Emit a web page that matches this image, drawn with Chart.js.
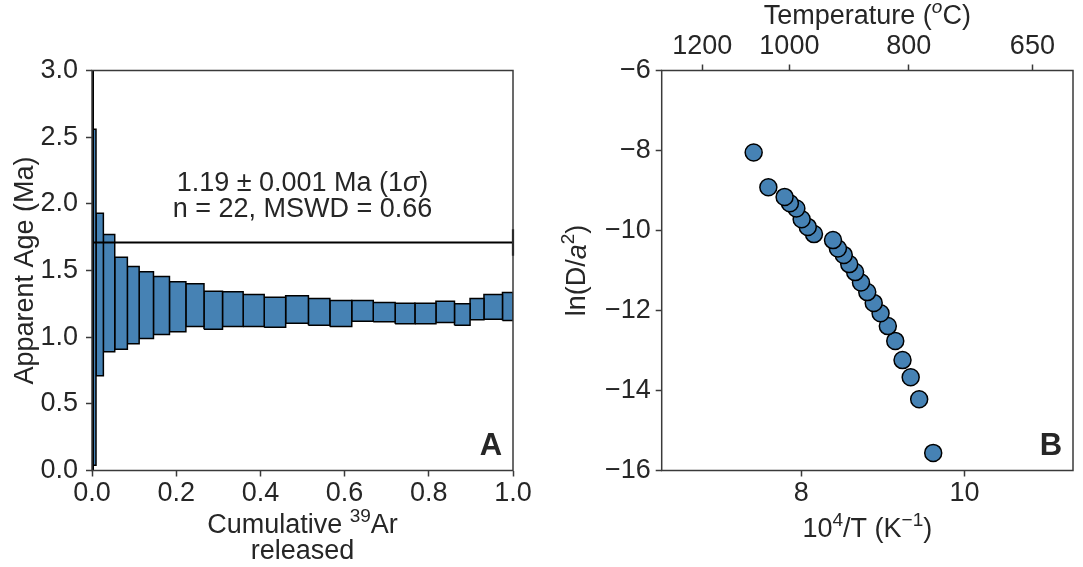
<!DOCTYPE html>
<html lang="en">
<head>
<meta charset="UTF-8">
<title>Age spectrum and Arrhenius plot</title>
<script src="https://cdn.jsdelivr.net/npm/chart.js@4.4.0/dist/chart.umd.min.js"></script>
<style>
    html, body { margin: 0; padding: 0; background: #ffffff; }
    .wrap { position: relative; width: 1083px; height: 567px; overflow: hidden; }
    #ageChart { position: absolute; left: 0; top: 0; }
    #arrChart { position: absolute; left: 545px; top: 0; }
</style>
</head>
<body>
<div class="wrap">
    <canvas id="ageChart" width="545" height="567"></canvas>
    <canvas id="arrChart" width="538" height="567"></canvas>
</div>
<script>
// ---- panel A: step heating age spectrum ----
const stepEdges = [0, 0.003, 0.0095, 0.027, 0.054, 0.084, 0.112, 0.146, 0.184, 0.223, 0.266, 0.310, 0.359,
                   0.409, 0.460, 0.514, 0.565, 0.617, 0.668, 0.720, 0.767, 0.817, 0.861, 0.898, 0.931, 0.975, 1.0];
const ageLow  = [0.0, 0.04, 0.71, 0.89, 0.91, 0.95, 0.99, 1.02, 1.04, 1.08, 1.06, 1.08, 1.08, 1.075,
                 1.105, 1.09, 1.08, 1.12, 1.115, 1.10, 1.10, 1.11, 1.09, 1.13, 1.135, 1.125];
const ageHigh = [3.5, 2.56, 1.93, 1.77, 1.60, 1.53, 1.49, 1.455, 1.415, 1.40, 1.345, 1.34, 1.32, 1.30,
                 1.31, 1.29, 1.275, 1.275, 1.26, 1.255, 1.255, 1.27, 1.25, 1.29, 1.32, 1.335];
const plateauAge = 1.71;
const plateauEnd = [1.61, 1.81];
const fracTicks = [0, 0.2, 0.4, 0.6, 0.8, 1.0];
const ageTicks = [0, 0.5, 1.0, 1.5, 2.0, 2.5, 3.0];

// ---- panel B: Arrhenius data ----
const invT  = [9.617, 9.445, 9.341, 9.241, 9.152, 9.061, 8.972, 8.888, 8.809, 8.732, 8.660, 8.588,
               8.521, 8.449, 8.389, 8.156, 8.080, 8.005, 7.940, 7.861, 7.796, 7.597, 7.417];
const lnDa2 = [-15.56, -14.22, -13.67, -13.24, -12.76, -12.39, -12.07, -11.81, -11.54, -11.30, -11.04, -10.84,
               -10.61, -10.45, -10.24, -10.09, -9.91, -9.72, -9.45, -9.32, -9.16, -8.92, -8.05];
const invTTicks = [8, 10];
const lnTicks = [-16, -14, -12, -10, -8, -6];
const tempTicks = [1200, 1000, 800, 650];

const ink = '#262626';
const spine = '#3a3a3a';
const steel = '#4682b4';
const FONT = "'Liberation Sans', Arial, sans-serif";
const FS = 27;

Chart.defaults.font.family = FONT;
Chart.defaults.color = ink;

const tickGrid = { display: true, drawOnChartArea: false, drawTicks: true, tickLength: 6, tickColor: spine, tickWidth: 1.5 };

const framePlugin = {
    id: 'frame',
    afterDraw(chart) {
        const { ctx, chartArea: a } = chart;
        ctx.save();
        ctx.strokeStyle = spine;
        ctx.lineWidth = 1.5;
        ctx.strokeRect(a.left, a.top, a.width, a.height);
        ctx.restore();
    }
};

function panelLetter(chart, letter) {
    const { ctx, chartArea: a } = chart;
    ctx.save();
    ctx.font = "bold 31px " + FONT;
    ctx.fillStyle = ink;
    ctx.textAlign = 'center';
    ctx.textBaseline = 'middle';
    ctx.fillText(letter, a.right - 22, a.bottom - 24);
    ctx.restore();
}

// text with superscripts / italics: segs = [[text, 'sup'|'it'|'supit'|'']]
function segFont(kind, size) {
    const s = kind.indexOf('sup') >= 0 ? Math.round(size * 0.7) : size;
    return (kind.indexOf('it') >= 0 ? 'italic ' : '') + s + 'px ' + FONT;
}
function richText(ctx, segs, x, y, size, rot) {
    ctx.save();
    ctx.translate(x, y);
    if (rot) ctx.rotate(rot);
    ctx.fillStyle = ink;
    ctx.textBaseline = 'middle';
    ctx.textAlign = 'left';
    let w = 0;
    segs.forEach(s => { ctx.font = segFont(s[1], size); w += ctx.measureText(s[0]).width; });
    let px = -w / 2;
    segs.forEach(s => {
        ctx.font = segFont(s[1], size);
        const dy = s[1].indexOf('sup') >= 0 ? -size * 0.36 : 0;
        ctx.fillText(s[0], px, dy);
        px += ctx.measureText(s[0]).width;
    });
    ctx.restore();
}

// boxes, one closed outline per step
const boxSets = [];
for (let i = 0; i < ageLow.length; i++) {
    const x0 = stepEdges[i], x1 = stepEdges[i + 1];
    boxSets.push({
        data: [{x: x0, y: ageLow[i]}, {x: x0, y: ageHigh[i]}, {x: x1, y: ageHigh[i]}, {x: x1, y: ageLow[i]}, {x: x0, y: ageLow[i]}],
        showLine: true,
        fill: 'shape',
        backgroundColor: steel,
        borderColor: '#000000',
        borderWidth: 1.5,
        pointRadius: 0,
        tension: 0,
        clip: 0,
        order: 1
    });
}

const ageChart = new Chart(document.getElementById('ageChart'), {
    type: 'scatter',
    data: {
        datasets: [
            {
                data: [{x: fracTicks[0], y: plateauAge}, {x: fracTicks[fracTicks.length - 1], y: plateauAge}],
                showLine: true, borderColor: '#000000', borderWidth: 2.2, pointRadius: 0, fill: false, clip: 0, order: 0
            },
            {
                data: [{x: 1.0, y: plateauEnd[0]}, {x: 1.0, y: plateauEnd[1]}],
                showLine: true, borderColor: '#000000', borderWidth: 2.2, pointRadius: 0, fill: false, clip: 2, order: 0
            },
            ...boxSets
        ]
    },
    options: {
        responsive: false,
        animation: false,
        events: [],
        layout: { padding: { left: 5, right: 32, top: 70.5, bottom: 0 } },
        plugins: { legend: { display: false }, tooltip: { enabled: false } },
        scales: {
            x: {
                type: 'linear', min: 0, max: 1,
                afterBuildTicks: s => { s.ticks = fracTicks.map(v => ({ value: v })); },
                afterFit: s => { s.height = 96.5; },
                ticks: { font: { size: FS }, color: ink, padding: 0.5, maxRotation: 0, callback: v => Number(v).toFixed(1) },
                grid: tickGrid,
                border: { display: false }
            },
            y: {
                type: 'linear', min: 0, max: 3,
                afterBuildTicks: s => { s.ticks = ageTicks.map(v => ({ value: v })); },
                afterFit: s => { s.width = 87; },
                ticks: { font: { size: FS }, color: ink, padding: 8, callback: v => Number(v).toFixed(1) },
                grid: tickGrid,
                border: { display: false },
                title: { display: true, text: 'Apparent Age (Ma)', color: ink, font: { size: FS }, padding: { top: 4, bottom: 0 } }
            }
        }
    },
    plugins: [framePlugin, {
        id: 'ageText',
        afterDatasetsDraw(chart) {
            const { ctx } = chart;
            const xs = chart.scales.x, ys = chart.scales.y;
            const cx = xs.getPixelForValue(0.5);
            richText(ctx, [['1.19 ± 0.001 Ma (1', ''], ['σ', 'it'], [')', '']], cx, ys.getPixelForValue(2.15), FS);
            richText(ctx, [['n = 22, MSWD = 0.66', '']], cx, ys.getPixelForValue(1.96), FS);
        },
        afterDraw(chart) {
            const a = chart.chartArea;
            const cx = (a.left + a.right) / 2;
            richText(chart.ctx, [['Cumulative ', ''], ['39', 'sup'], ['Ar', '']], cx, 526, FS);
            richText(chart.ctx, [['released', '']], cx, 552, FS);
            panelLetter(chart, 'A');
        }
    }]
});

// ---- panel B ----
const toInvT = t => 1e4 / (t + 273.15);

const arrChart = new Chart(document.getElementById('arrChart'), {
    type: 'scatter',
    data: {
        datasets: [{
            data: invT.map((v, i) => ({ x: v, y: lnDa2[i] })),
            backgroundColor: steel,
            borderColor: '#000000',
            borderWidth: 1.5,
            pointRadius: 8.5,
            xAxisID: 'x',
            yAxisID: 'y'
        }]
    },
    options: {
        responsive: false,
        animation: false,
        events: [],
        layout: { padding: { left: 12, right: 1, top: 0, bottom: 0 } },
        plugins: { legend: { display: false }, tooltip: { enabled: false } },
        scales: {
            x: {
                type: 'linear', position: 'bottom', min: 6.29, max: 11.33,
                afterBuildTicks: s => { s.ticks = invTTicks.map(v => ({ value: v })); },
                afterFit: s => { s.height = 96.5; },
                ticks: { font: { size: FS }, color: ink, padding: 0.5, maxRotation: 0 },
                grid: tickGrid,
                border: { display: false }
            },
            x2: {
                type: 'linear', position: 'top', min: 6.29, max: 11.33,
                afterBuildTicks: s => { s.ticks = tempTicks.map(t => ({ value: toInvT(t) })); },
                afterFit: s => { s.height = 70.5; },
                ticks: { font: { size: FS }, color: ink, padding: 1.5, maxRotation: 0,
                         callback: v => String(Math.round(1e4 / v - 273.15)) },
                grid: tickGrid,
                border: { display: false }
            },
            y: {
                type: 'linear', min: -16, max: -6,
                afterBuildTicks: s => { s.ticks = lnTicks.map(v => ({ value: v })); },
                afterFit: s => { s.width = 104.7; },
                ticks: { font: { size: FS }, color: ink, padding: 5,
                         callback: v => (v < 0 ? '\u2212' + Math.abs(v) : String(v)) },
                grid: tickGrid,
                border: { display: false }
            }
        }
    },
    plugins: [framePlugin, {
        id: 'arrText',
        afterDraw(chart) {
            const a = chart.chartArea, ctx = chart.ctx;
            const cx = (a.left + a.right) / 2, cy = (a.top + a.bottom) / 2;
            richText(ctx, [['Temperature (', ''], ['o', 'supit'], ['C)', '']], cx, 17, FS);
            richText(ctx, [['10', ''], ['4', 'sup'], ['/T (K', ''], ['\u22121', 'sup'], [')', '']], cx, 530, FS);
            richText(ctx, [['ln(D/', ''], ['a', 'it'], ['2', 'sup'], [')', '']], 33, cy, FS, -Math.PI / 2);
            panelLetter(chart, 'B');
        }
    }]
});
</script>
</body>
</html>
